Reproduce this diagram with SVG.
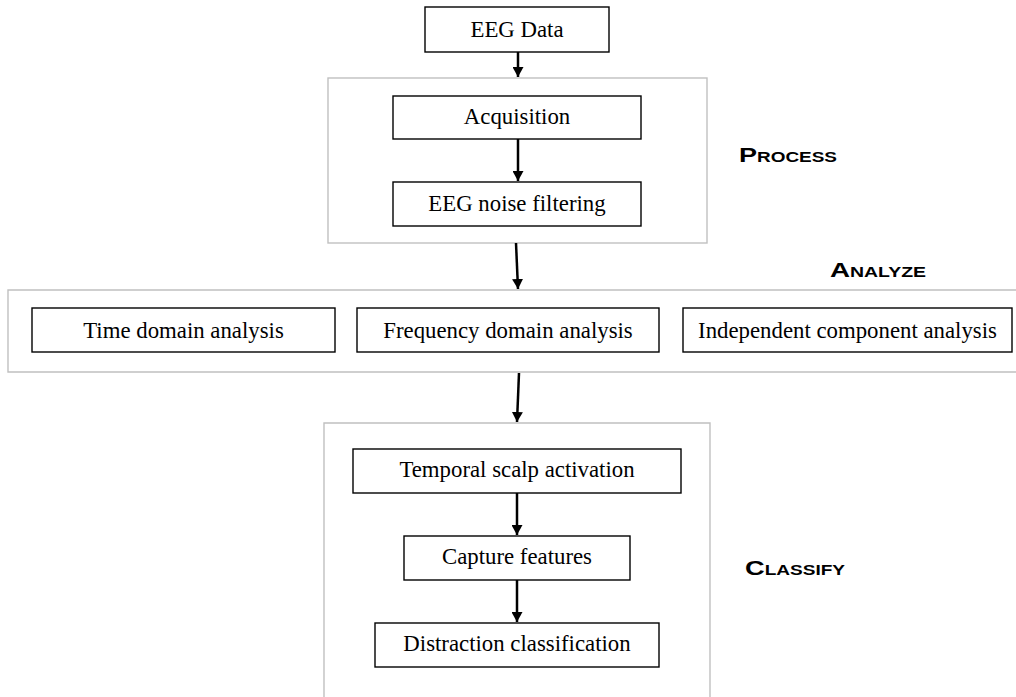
<svg xmlns="http://www.w3.org/2000/svg" width="1016" height="697" viewBox="0 0 1016 697">
<defs>
<style>
.box{fill:#fff;stroke:#000;stroke-width:1.4}
.cont{fill:none;stroke:#c0c0c0;stroke-width:1.4}
.t{font-family:"Liberation Serif","Times New Roman",serif;font-size:22.8px;fill:#000;text-anchor:middle}
.lab{font-family:"Liberation Sans",Arial,sans-serif;font-weight:bold;font-size:20px;font-variant:small-caps;fill:#000}
.arr{stroke:#000;stroke-width:2.5;fill:none;marker-end:url(#ah)}
</style>
<marker id="ah" markerWidth="12" markerHeight="11" refX="10" refY="5.5" orient="auto" markerUnits="userSpaceOnUse">
<path d="M0,0 L10,5.5 L0,11 z" fill="#000"/>
</marker>
</defs>
<rect width="1016" height="697" fill="#fff"/>
<g id="containers">
<rect id="process-group" class="cont" x="328" y="78" width="379" height="165"/>
<path id="analyze-group" class="cont" d="M1020,290 H8 V372 H1020"/>
<path id="classify-group" class="cont" d="M324,705 V423 H710 V705"/>
</g>
<g id="labels">
<text class="lab" x="739" y="162" textLength="98" lengthAdjust="spacingAndGlyphs">Process</text>
<text class="lab" x="830" y="277" textLength="96" lengthAdjust="spacingAndGlyphs">Analyze</text>
<text class="lab" x="745" y="575" textLength="100" lengthAdjust="spacingAndGlyphs">Classify</text>
</g>
<g id="connectors">
<path class="arr" d="M518,52 V77"/>
<path class="arr" d="M518,139 V181"/>
<path class="arr" d="M516,243 L518,289"/>
<path class="arr" d="M519,373 L517,422"/>
<path class="arr" d="M517,493 V535"/>
<path class="arr" d="M517,580 V622"/>
</g>
<g id="eeg-data"><rect class="box" x="425" y="7" width="184" height="45"/><text class="t" x="517" y="37">EEG Data</text></g>
<g id="acquisition"><rect class="box" x="393" y="96" width="248" height="43"/><text class="t" x="517" y="124">Acquisition</text></g>
<g id="noise-filtering"><rect class="box" x="393" y="182" width="248" height="44"/><text class="t" x="517" y="211">EEG noise filtering</text></g>
<g id="time-domain"><rect class="box" x="32" y="308" width="303" height="44"/><text class="t" x="183.5" y="338">Time domain analysis</text></g>
<g id="frequency-domain"><rect class="box" x="357" y="308" width="302" height="44"/><text class="t" x="508" y="338">Frequency domain analysis</text></g>
<g id="ica"><rect class="box" x="683" y="308" width="329" height="44"/><text class="t" x="847.5" y="338">Independent component analysis</text></g>
<g id="temporal-scalp"><rect class="box" x="353" y="449" width="328" height="44"/><text class="t" x="517" y="477">Temporal scalp activation</text></g>
<g id="capture-features"><rect class="box" x="404" y="536" width="226" height="44"/><text class="t" x="517" y="564">Capture features</text></g>
<g id="distraction-class"><rect class="box" x="375" y="623" width="284" height="44"/><text class="t" x="517" y="651">Distraction classification</text></g>
</svg>
